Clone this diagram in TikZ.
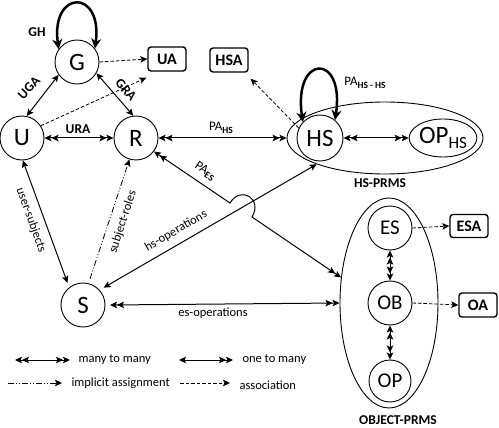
\documentclass[tikz,border=0pt]{standalone}
\usepackage{fontspec}
\setmainfont{Carlito}
\usetikzlibrary{arrows.meta,shapes.geometric,calc}
\newcommand\myfs[1]{\fontsize{#1}{#1}\selectfont}
\tikzset{
  >={Stealth[length=7pt,width=6.5pt,inset=1.5pt]},
  conn/.style={line width=1pt},
  mtm/.style={conn,<<->>},
  oto/.style={conn,<->},
  otm/.style={conn,<->>},
  assoc/.style={line width=0.8pt,dash pattern=on 3.5pt off 2pt,->},
  impl/.style={line width=0.8pt,dash pattern=on 6pt off 2pt on 1pt off 2pt on 1pt off 2pt,->},
  loopst/.style={line width=2.5pt,{Stealth[length=10pt,width=10pt]}-{Stealth[length=10pt,width=10pt]}},
  circ/.style={circle,draw,line width=0.9pt,minimum size=44pt,inner sep=0pt,font=\myfs{25}},
  scirc/.style={circle,draw,line width=0.9pt,minimum size=44pt,inner sep=0pt,font=\myfs{21}},
  abox/.style={draw,rounded corners=3pt,line width=1.4pt,minimum width=38pt,minimum height=24pt,inner sep=0pt,font=\bfseries\myfs{16}},
  blab/.style={font=\bfseries\myfs{13.5}},
  tlab/.style={font=\myfs{12.5}},
  leg/.style={font=\myfs{12.5},anchor=west},
  group/.style={ellipse,draw,line width=0.9pt,inner sep=0pt}
}
\newcommand\pasub[1]{PA\raisebox{-2.5pt}{\bfseries\myfs{9.5}#1}}
\begin{document}
\begin{tikzpicture}[x=1pt,y=-1pt]
\useasboundingbox (0,0) rectangle (499,428);

% groups
\node[group,minimum width=196pt,minimum height=72pt] (HSP) at (385,138) {};
\node[group,minimum width=98pt,minimum height=210pt] (OBJ) at (389,303) {};
\node[font=\bfseries\myfs{13.5}] (HSPl) at (380,183) {HS-PRMS};
\node[font=\bfseries\myfs{13.5}] (OBJl) at (398,420) {OBJECT-PRMS};

% main nodes
\node[circ] (G) at (77,62) {G};
\node[circ] (U) at (22,138) {U};
\node[circ] (R) at (136,138) {R};
\node[circ,minimum size=46pt] (HS) at (320,138) {HS};
\node[ellipse,draw,line width=0.9pt,inner sep=0pt,minimum width=57pt,minimum height=38pt,font=\myfs{25}] (OPHS) at (443,138) {OP\raisebox{-5pt}{\myfs{17}HS}};
\node[circ,outer sep=5pt] (S) at (83,305) {S};
\node[scirc] (ES) at (390,228) {ES};
\node[scirc] (OB) at (390,303) {OB};
\node[scirc,minimum size=42pt] (OP) at (390,381) {OP};

% boxes
\node[abox] (UA) at (167,59) {UA};
\node[abox] (HSA) at (229,60) {HSA};
\node[abox,minimum height=23pt] (ESA) at (469,226) {ESA};
\node[abox] (OA) at (478,305) {OA};

% loops
\draw[loopst] (G.145) .. controls +(-8,-60) and +(8,-60) .. (G.37);
\draw[loopst] (HS.137) .. controls +(-10,-68) and +(10,-68) .. (HS.50);
\node[blab] (GHl) at (37,32) {GH};
\node[font=\myfs{13}] (PAHSHSl) at (365,83) {\pasub{HS - HS}};

% associations
\draw[assoc] (G.east) -- (UA.west);
\draw[assoc] (U.33) -- ($(UA.south west)+(-1,6)$);
\draw[assoc] (HS.155) -- ($(HSA.south east)+(2,6)$);
\draw[assoc] (ES.east) -- (ESA.west);
\draw[assoc] (OB.east) -- (OA.west);

% relations
\draw[oto] (U.78) -- (G.215);
\node[blab,rotate=47] (UGAl) at (29,88) {UGA};
\draw[oto] (G.330) -- (R.97);
\node[blab,rotate=-48] (GRAl) at (126,90) {GRA};
\draw[mtm] (U.east) -- (R.west);
\node[blab] (URAl) at (78,129) {URA};
\draw[mtm] (R.east) -- (HSP.west);
\node[font=\myfs{13}] (PAHSl) at (221,128) {\pasub{HS}};
\draw[mtm] (HS.east) -- (OPHS.west);
\draw[mtm] (ES.south) -- (OB.north);
\draw[mtm] (OB.south) -- (OP.north);

% PA_ES with a bridge over hs-operations
\coordinate (jA) at (230,203);
\coordinate (jB) at (252,217);
\draw[mtm] (R.-37) -- (jA) .. controls +(11,-18) and +(11,-18) .. (jB) -- (OBJ.152);
\node[font=\myfs{13},rotate=-34] (PAESl) at (205,171) {\pasub{ES}};

\draw[oto] (S.40) -- (HSP.201);
\node[tlab,rotate=30] (hsl) at (176,231) {hs-operations};
\draw[mtm] (S.east) -- (OBJ.west);
\node[tlab,anchor=north] (esl) at (213,304) {es-operations};
\draw[oto] (U.-88) -- (S.125);
\node[tlab,rotate=-70] (usl) at (31,220) {user-subjects};
\draw[impl] (S.75) -- (R.-107);
\node[tlab,rotate=72] (srl) at (123,222) {subject-roles};

% legend
\coordinate (l1a) at (15,360); \coordinate (l1b) at (70,360);
\coordinate (l2a) at (179,360); \coordinate (l2b) at (233,360);
\coordinate (l3a) at (8,383); \coordinate (l3b) at (62,383);
\coordinate (l4a) at (180,383); \coordinate (l4b) at (230,383);
\draw[mtm] (l1a) -- (l1b);
\node[leg] (L1) at (75,360) {many to many};
\draw[otm] (l2a) -- (l2b);
\node[leg] (L2) at (239,360) {one to many};
\draw[impl] (l3a) -- (l3b);
\node[leg] (L3) at (68,383) {implicit assignment};
\draw[assoc] (l4a) -- (l4b);
\node[leg] (L4) at (236,385) {association};
\end{tikzpicture}
\end{document}
